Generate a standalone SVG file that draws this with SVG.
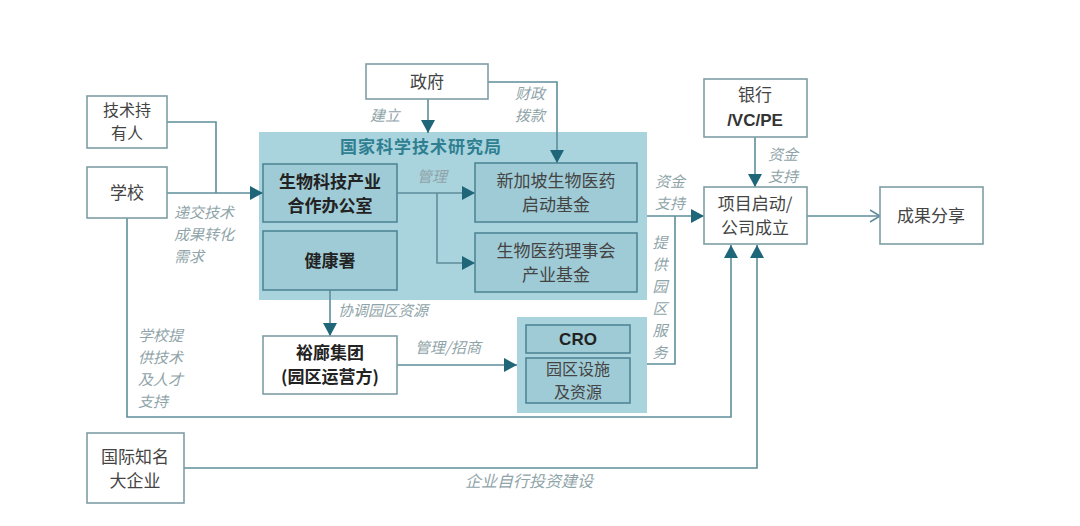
<svg xmlns="http://www.w3.org/2000/svg" width="1080" height="526" viewBox="0 0 1080 526">
<style>
.box{fill:#ffffff;stroke:#7f9ea6;stroke-width:1.6}
.tbg{fill:#a9d3dd;stroke:none}
.ibox{fill:#9fcbd6;stroke:#4f8696;stroke-width:1.6}
.t{font-family:"Noto Sans CJK SC","Liberation Sans",sans-serif;font-size:17px;fill:#444;text-anchor:middle}
.s{font-size:16px}
.b{font-weight:bold;fill:#222}
.title{font-family:"Noto Sans CJK SC","Liberation Sans",sans-serif;font-size:17px;font-weight:bold;fill:#2f7f91;text-anchor:middle;letter-spacing:1px}
.lab{font-family:"Noto Sans CJK SC","Liberation Sans",sans-serif;font-size:15px;font-style:italic;fill:#8fa4a9}
.c{fill:none;stroke:#5e8e9a;stroke-width:1.6}
</style>
<defs>
<marker id="ah" markerUnits="userSpaceOnUse" markerWidth="14" markerHeight="14" refX="13" refY="7" orient="auto">
<path d="M0,0 L13,7 L0,14 Z" fill="#1f6678"/>
</marker>
<marker id="oa" markerUnits="userSpaceOnUse" markerWidth="14" markerHeight="14" refX="12" refY="7" orient="auto">
<path d="M2,1 L12,7 L2,13" fill="none" stroke="#5e8e9a" stroke-width="1.6"/>
</marker>
</defs>

<g id="nsti">
<rect class="tbg" x="259" y="132" width="388" height="168"/>
<text class="title" x="421" y="153">国家科学技术研究局</text>
</g>
<g id="park-bg">
<rect class="tbg" x="517" y="317" width="130" height="96"/>
</g>

<g id="connectors">
<path class="c" d="M428,99 V133" marker-end="url(#ah)"/>
<path class="c" d="M488,82 H557 V163" marker-end="url(#ah)"/>
<path class="c" d="M167,122 H216 V193"/>
<path class="c" d="M167,193 H263" marker-end="url(#ah)"/>
<path class="c" d="M127,218 V417 H731 V245" marker-end="url(#ah)"/>
<path class="c" d="M184,468 H757 V245" marker-end="url(#ah)"/>
<path class="c" d="M397,193 H475" marker-end="url(#ah)"/>
<path class="c" d="M437,193 V263 H475" marker-end="url(#ah)"/>
<path class="c" d="M330,290 V336" marker-end="url(#ah)"/>
<path class="c" d="M397,365 H517" marker-end="url(#ah)"/>
<path class="c" d="M647,216 H704" marker-end="url(#ah)"/>
<path class="c" d="M647,364 H675 V216"/>
<path class="c" d="M755,137 V187" marker-end="url(#ah)"/>
<path class="c" d="M807,216 H880" marker-end="url(#oa)"/>
</g>

<g id="labels">
<text class="lab" x="385" y="121" text-anchor="middle">建立</text>
<text class="lab" text-anchor="middle"><tspan x="530" y="99">财政</tspan><tspan x="530" y="121">拨款</tspan></text>
<text class="lab" x="432" y="182" text-anchor="middle">管理</text>
<text class="lab"><tspan x="174" y="218">递交技术</tspan><tspan x="174" y="240">成果转化</tspan><tspan x="174" y="262">需求</tspan></text>
<text class="lab"><tspan x="138" y="341">学校提</tspan><tspan x="138" y="363">供技术</tspan><tspan x="138" y="385">及人才</tspan><tspan x="138" y="407">支持</tspan></text>
<text class="lab" x="338" y="316">协调园区资源</text>
<text class="lab" x="415" y="353">管理/招商</text>
<text class="lab" text-anchor="middle"><tspan x="670" y="187">资金</tspan><tspan x="670" y="209">支持</tspan></text>
<text class="lab" text-anchor="middle"><tspan x="783" y="160">资金</tspan><tspan x="783" y="182">支持</tspan></text>
<text class="lab" text-anchor="middle"><tspan x="660" y="248">提</tspan><tspan x="660" y="270">供</tspan><tspan x="660" y="292">园</tspan><tspan x="660" y="314">区</tspan><tspan x="660" y="336">服</tspan><tspan x="660" y="358">务</tspan></text>
<text class="lab" x="529" y="487" text-anchor="middle" style="font-size:16px">企业自行投资建设</text>
</g>

<g id="gov">
<rect class="box" x="366" y="64" width="122" height="35"/>
<text class="t" x="427" y="88">政府</text>
</g>
<g id="tech-holder">
<rect class="box" x="87" y="96" width="80" height="52"/>
<text class="t s"><tspan x="127" y="116">技术持</tspan><tspan x="127" y="139">有人</tspan></text>
</g>
<g id="school">
<rect class="box" x="87" y="167" width="80" height="51"/>
<text class="t" x="127" y="199">学校</text>
</g>
<g id="bio-office">
<rect class="ibox" x="263" y="164" width="134" height="58"/>
<text class="t b"><tspan x="330" y="188">生物科技产业</tspan><tspan x="330" y="212">合作办公室</tspan></text>
</g>
<g id="health">
<rect class="ibox" x="263" y="231" width="134" height="59"/>
<text class="t b" x="330" y="267">健康署</text>
</g>
<g id="startup-fund">
<rect class="ibox" x="475" y="163" width="162" height="59"/>
<text class="t"><tspan x="556" y="187">新加坡生物医药</tspan><tspan x="556" y="211">启动基金</tspan></text>
</g>
<g id="industry-fund">
<rect class="ibox" x="475" y="233" width="162" height="59"/>
<text class="t"><tspan x="556" y="257">生物医药理事会</tspan><tspan x="556" y="281">产业基金</tspan></text>
</g>
<g id="jtc">
<rect class="box" x="263" y="336" width="134" height="58"/>
<text class="t b"><tspan x="330" y="359">裕廊集团</tspan><tspan x="330" y="383">(园区运营方)</tspan></text>
</g>
<g id="cro">
<rect class="ibox" x="526" y="325" width="104" height="28"/>
<text class="t b" x="578" y="345" style="font-family:'Liberation Sans',sans-serif">CRO</text>
</g>
<g id="facilities">
<rect class="ibox" x="526" y="358" width="104" height="45"/>
<text class="t s"><tspan x="578" y="375">园区设施</tspan><tspan x="578" y="398">及资源</tspan></text>
</g>
<g id="bank">
<rect class="box" x="704" y="79" width="103" height="58"/>
<text class="t"><tspan x="755" y="101">银行</tspan><tspan x="755" y="126" style="font-family:'Liberation Sans',sans-serif;font-weight:bold;fill:#333">/VC/PE</tspan></text>
</g>
<g id="project">
<rect class="box" x="704" y="187" width="103" height="57"/>
<text class="t"><tspan x="755" y="210">项目启动/</tspan><tspan x="755" y="234">公司成立</tspan></text>
</g>
<g id="share">
<rect class="box" x="880" y="187" width="103" height="57"/>
<text class="t" x="931" y="222">成果分享</text>
</g>
<g id="mnc">
<rect class="box" x="87" y="433" width="97" height="70"/>
<text class="t"><tspan x="135" y="463">国际知名</tspan><tspan x="135" y="487">大企业</tspan></text>
</g>
</svg>
